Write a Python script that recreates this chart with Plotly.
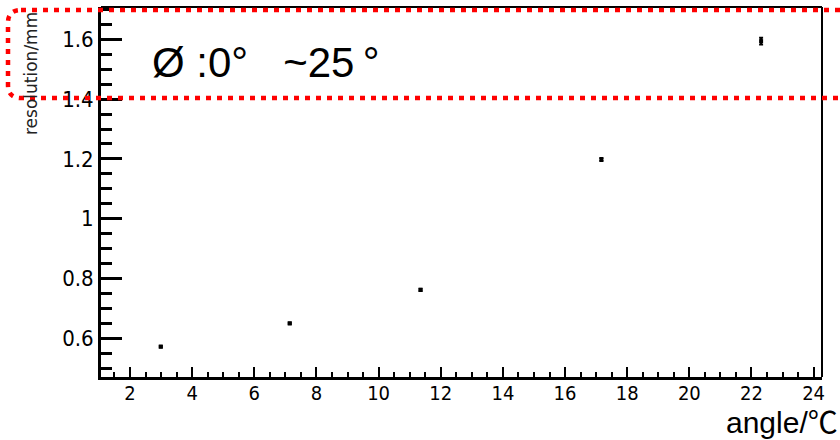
import plotly.graph_objects as go

# Resolution versus incidence angle
angle = [2.99, 7.14, 11.35, 17.17, 22.31]
resolution = [0.572, 0.650, 0.762, 1.198, 1.594]
resolution_err = [0.003, 0.003, 0.004, 0.005, 0.011]

x_tick_vals = [2, 4, 6, 8, 10, 12, 14, 16, 18, 20, 22, 24]
y_tick_vals = [0.6, 0.8, 1.0, 1.2, 1.4, 1.6]
y_tick_text = ["0.6", "0.8", "1", "1.2", "1.4", "1.6"]

W, H = 840, 440
ML, MR, MT, MB = 101, 18, 7, 63
PW, PH = W - ML - MR, H - MT - MB


def px(xp):
    return (xp - ML) / PW


def py(yp):
    return (H - MB - yp) / PH


narrow = "Liberation Sans Narrow, DejaVu Sans Condensed, Arial Narrow, sans-serif"

fig = go.Figure()
fig.add_trace(go.Scatter(
    x=angle, y=resolution, mode="markers",
    marker=dict(symbol="square", size=4, color="black", line=dict(width=0)),
    error_y=dict(type="data", array=resolution_err, color="black", thickness=2, width=2),
    showlegend=False,
))

fig.update_xaxes(
    range=[1.066, 24.27], showgrid=False, zeroline=False,
    showline=True, linewidth=3, linecolor="black",
    tickmode="array", tickvals=x_tick_vals,
    ticks="inside", ticklen=10, tickwidth=2, tickcolor="black",
    minor=dict(dtick=0.5, tick0=0, ticks="inside", ticklen=5, tickwidth=2, tickcolor="black", showgrid=False),
    tickfont=dict(family=narrow, size=20, color="black"),
    ticklabelstandoff=-4,
)
fig.update_yaxes(
    range=[0.4706, 1.708], showgrid=False, zeroline=False,
    showline=True, linewidth=3, linecolor="black",
    tickmode="array", tickvals=y_tick_vals, ticktext=y_tick_text,
    ticks="inside", ticklen=21, tickwidth=3, tickcolor="black",
    minor=dict(dtick=0.05, tick0=0, ticks="inside", ticklen=11, tickwidth=3, tickcolor="black", showgrid=False),
    tickfont=dict(family=narrow, size=22, color="black"),
)

shapes = [
    # frame top and right edges
    dict(type="line", xref="paper", yref="paper", x0=0, x1=1, y0=1, y1=1,
         line=dict(color="black", width=2)),
    dict(type="line", xref="paper", yref="paper", x0=1, x1=1, y0=0, y1=1,
         line=dict(color="black", width=2)),
]

# dotted red highlight box with rounded left corners
xl, xr, yt, yb, r = 8, 860, 10, 98, 13
path = (
    f"M {px(xl + r)},{py(yt)} L {px(xr)},{py(yt)} "
    f"M {px(xr)},{py(yb)} L {px(xl + r)},{py(yb)} "
    f"Q {px(xl)},{py(yb)} {px(xl)},{py(yb - r)} "
    f"L {px(xl)},{py(yt + r)} "
    f"Q {px(xl)},{py(yt)} {px(xl + r)},{py(yt)}"
)
shapes.append(dict(type="path", xref="paper", yref="paper", path=path,
                   line=dict(color="#ff0000", width=4.5, dash="5px,6px"), layer="above"))

annotations = [
    dict(text="resolution/mm", textangle=-90, xref="paper", yref="paper",
         x=px(31), y=py(74), xanchor="center", yanchor="middle", showarrow=False,
         font=dict(family="DejaVu Sans", size=17, color="#222222")),
    dict(text="Ø :0°   ~25\u2009°", xref="paper", yref="paper",
         x=px(150), y=py(62), xanchor="left", yanchor="middle", showarrow=False,
         font=dict(family="Liberation Sans, Arial, sans-serif", size=42, color="black")),
    dict(text="angle/℃", xref="paper", yref="paper",
         x=px(840), y=py(422), xanchor="right", yanchor="middle", showarrow=False,
         font=dict(family="Liberation Sans, Noto Sans CJK SC, sans-serif", size=30, color="black")),
]

fig.update_layout(
    width=W, height=H,
    margin=dict(l=ML, r=MR, t=MT, b=MB, pad=0),
    paper_bgcolor="white", plot_bgcolor="white",
    shapes=shapes, annotations=annotations,
)

fig.write_html("out.html", config={"displayModeBar": False})
